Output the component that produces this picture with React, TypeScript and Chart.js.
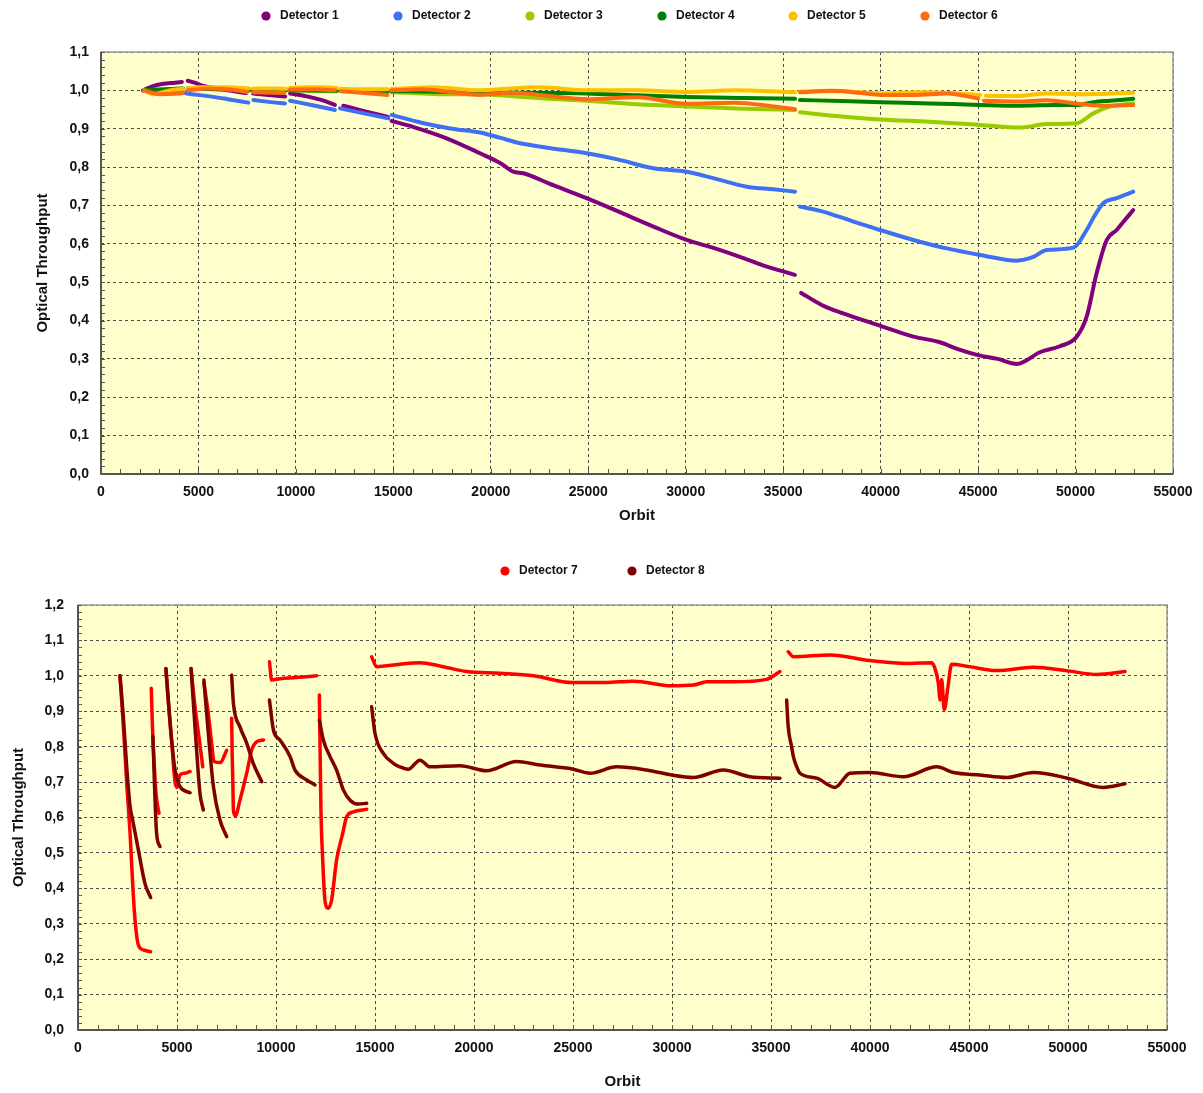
import { useEffect, useRef } from "react";
import { Chart, registerables } from "chart.js";

Chart.register(...registerables);

// ---------- Top chart data ----------
const topLabels = ["Detector 1", "Detector 2", "Detector 3", "Detector 4", "Detector 5", "Detector 6"];
const topColors = ["#800080", "#3f6ff2", "#99cc00", "#008000", "#ffc000", "#ff6a10"];

const det1Orbit = [2150, 2600, 3200, 3800, 4150, 4300, 4450, 4800, 5200, 5600, 6500, 7450, 7650, 7800, 8600, 9450, 9600, 9700, 10500, 11300, 12000, 12200, 12430, 13500, 14720, 14820, 14910, 16000, 17730, 19445, 20500, 21150, 21670, 23000, 24920, 26500, 28340, 30050, 31500, 32780, 34000, 35000, 35600, 35750, 35920, 37000, 38000, 40000, 41680, 43000, 44000, 45000, 46000, 47000, 48200, 49200, 50060, 50570, 51080, 51600, 52110, 52500, 52960];
const det1Value = [1.0, 1.01, 1.017, 1.02, 1.022, null, 1.025, 1.02, 1.012, 1.008, 1.0, 0.993, null, 0.992, 0.988, 0.984, null, 0.992, 0.985, 0.975, 0.962, null, 0.96, 0.946, 0.931, null, 0.92, 0.905, 0.875, 0.836, 0.81, 0.788, 0.784, 0.757, 0.719, 0.685, 0.645, 0.61, 0.588, 0.566, 0.543, 0.528, 0.519, null, 0.472, 0.44, 0.42, 0.386, 0.358, 0.344, 0.325, 0.31, 0.3, 0.287, 0.318, 0.333, 0.358, 0.41, 0.523, 0.61, 0.636, 0.66, 0.688];

const det2Orbit = [2200, 3500, 4400, 5500, 6500, 7560, 7700, 7820, 8600, 9440, 9580, 9700, 10800, 12000, 12130, 12260, 13500, 14740, 14830, 14910, 16500, 18000, 19445, 20500, 21500, 23000, 24920, 26500, 28340, 30050, 31500, 33130, 34500, 35610, 35730, 35860, 36890, 38500, 39970, 41680, 43390, 45100, 46980, 47800, 48520, 49890, 50570, 51000, 51420, 52110, 52960];
const det2Value = [1.0, 1.0, 0.992, 0.985, 0.977, 0.968, null, 0.975, 0.97, 0.966, null, 0.973, 0.962, 0.949, null, 0.953, 0.94, 0.927, null, 0.936, 0.915, 0.9, 0.89, 0.876, 0.862, 0.85, 0.836, 0.82, 0.797, 0.788, 0.77, 0.749, 0.742, 0.736, null, 0.697, 0.686, 0.66, 0.636, 0.61, 0.588, 0.571, 0.556, 0.565, 0.584, 0.59, 0.636, 0.675, 0.706, 0.719, 0.736];

const det3Orbit = [2200, 4200, 4300, 4450, 7600, 7700, 7800, 9500, 9600, 9700, 12100, 12200, 12300, 14700, 14820, 14900, 16000, 17500, 19445, 21000, 23000, 24920, 27500, 30050, 33000, 35610, 35730, 35860, 38000, 40000, 42500, 45100, 47150, 48520, 50060, 50910, 51770, 52960];
const det3Value = [1.0, 1.004, null, 1.005, 1.0, null, 1.0, 1.0, null, 1.0, 0.998, null, 0.998, 0.995, null, 0.995, 0.993, 0.99, 0.99, 0.985, 0.978, 0.973, 0.964, 0.958, 0.952, 0.949, null, 0.943, 0.932, 0.924, 0.918, 0.91, 0.903, 0.912, 0.914, 0.94, 0.958, 0.966];

const det4Orbit = [2200, 4200, 4300, 4450, 6000, 7600, 7700, 7800, 9500, 9600, 9700, 12100, 12200, 12300, 14700, 14820, 14900, 18000, 19445, 22000, 24920, 27500, 30050, 33000, 35610, 35730, 35860, 38000, 40000, 42500, 45100, 47150, 49000, 50060, 50910, 51770, 52960];
const det4Value = [1.0, 1.005, null, 1.005, 1.003, 1.0, null, 1.0, 1.0, null, 1.0, 0.999, null, 0.999, 0.998, null, 0.998, 0.996, 0.995, 0.994, 0.992, 0.987, 0.983, 0.98, 0.978, null, 0.975, 0.972, 0.969, 0.966, 0.962, 0.96, 0.962, 0.962, 0.969, 0.973, 0.978];

const det5Orbit = [2200, 2700, 3500, 4200, 4300, 4450, 5000, 6500, 7600, 7700, 7800, 9000, 9500, 9600, 9700, 10500, 11500, 12100, 12200, 12300, 13000, 14700, 14820, 14900, 15500, 17000, 19445, 21000, 22500, 24920, 27500, 30050, 32500, 35610, 35730, 35860, 38000, 40000, 42000, 44000, 45100, 45250, 45400, 47000, 48500, 50500, 52960];
const det5Value = [1.0, 0.99, 1.0, 1.004, null, 1.005, 1.008, 1.008, 1.005, null, 1.005, 1.005, 1.004, null, 1.006, 1.008, 1.008, 1.006, null, 1.004, 1.003, 1.003, null, 1.004, 1.005, 1.008, 1.0, 1.005, 1.008, 1.0, 1.0, 0.996, 1.0, 0.995, null, 0.997, 0.998, 0.992, 0.995, 0.992, 0.988, null, 0.986, 0.985, 0.992, 0.99, 0.994];

const det6Orbit = [2200, 3000, 4000, 4200, 4300, 4450, 5500, 6500, 7500, 7700, 7800, 9400, 9600, 9700, 11000, 12000, 12200, 12300, 14700, 14820, 14900, 16500, 18000, 19445, 21000, 22500, 24920, 27500, 30050, 32500, 34500, 35610, 35730, 35860, 37500, 39000, 40000, 41700, 43400, 45000, 45150, 45300, 47000, 48500, 50000, 51500, 52960];
const det6Value = [1.0, 0.99, 0.992, 0.993, null, 1.0, 1.005, 1.003, 0.996, null, 0.995, 0.993, null, 1.002, 1.003, 1.0, null, 0.998, 0.988, null, 1.0, 1.003, 0.995, 0.988, 0.994, 0.988, 0.977, 0.982, 0.965, 0.968, 0.958, 0.951, null, 0.995, 0.999, 0.993, 0.988, 0.988, 0.992, 0.979, null, 0.973, 0.971, 0.974, 0.966, 0.96, 0.962];

// ---------- Bottom chart data ----------
const bottomLabels = ["Detector 7", "Detector 8"];
const bottomColors = ["#ff0000", "#800000"];

const det7Orbit = [2120, 2300, 2460, 2630, 2760, 2880, 3050, 3300, 3670, 3690, 3700, 3760, 3840, 3940, 4090, 4200, 4440, 4600, 4750, 4900, 5000, 5150, 5400, 5660, 5690, 5710, 5910, 6130, 6300, 6340, 6360, 6580, 6750, 6870, 7180, 7510, 7600, 7760, 7790, 7820, 7850, 7950, 8180, 8520, 8770, 9030, 9370, 9500, 9670, 9780, 10200, 11000, 12050, 12120, 12190, 12220, 12270, 12360, 12470, 12640, 12810, 13060, 13370, 13570, 13910, 14580, 14700, 14830, 15080, 16260, 17270, 18280, 19630, 21310, 23000, 24960, 26640, 28050, 29980, 31080, 31750, 33100, 34780, 35450, 35600, 35870, 36130, 37980, 40000, 41850, 43110, 43280, 43450, 43540, 43620, 43750, 43940, 44120, 45000, 46400, 48250, 49980, 51450, 52880];
const det7Value = [1.0, 0.85, 0.697, 0.555, 0.414, 0.311, 0.24, 0.226, 0.221, null, 0.965, 0.857, 0.762, 0.668, 0.612, null, 1.02, 0.9, 0.8, 0.7, 0.685, 0.72, 0.725, 0.73, null, 1.02, 0.913, 0.819, 0.743, null, 0.98, 0.894, 0.81, 0.758, 0.755, 0.79, null, 0.88, 0.77, 0.7, 0.62, 0.605, 0.649, 0.725, 0.79, 0.814, 0.819, null, 1.04, 0.988, 0.992, 0.995, 1.0, null, 0.946, 0.819, 0.621, 0.48, 0.367, 0.344, 0.367, 0.48, 0.555, 0.602, 0.616, 0.623, null, 1.054, 1.026, 1.033, 1.037, 1.028, 1.012, 1.007, 1.0, 0.981, 0.981, 0.985, 0.972, 0.974, 0.983, 0.983, 0.99, 1.012, null, 1.068, 1.054, 1.059, 1.043, 1.035, 1.037, 1.021, 0.98, 0.932, 0.99, 0.905, 0.97, 1.033, 1.026, 1.015, 1.024, 1.014, 1.004, 1.012];

const det8Orbit = [2120, 2290, 2460, 2630, 2760, 3050, 3380, 3670, 3700, 3780, 3970, 4140, 4300, 4440, 4560, 4730, 4900, 5150, 5660, 5690, 5710, 5990, 6160, 6330, 6345, 6360, 6580, 6840, 7170, 7510, 7600, 7760, 7850, 8180, 8520, 8850, 9280, 9500, 9670, 9870, 10200, 10710, 10960, 11550, 11970, 12100, 12190, 12390, 12730, 13060, 13400, 13740, 14160, 14580, 14700, 14830, 15000, 15420, 15930, 16260, 16680, 17270, 17780, 19290, 20640, 22150, 23330, 24960, 25860, 27200, 28720, 29980, 31080, 32590, 33940, 35450, 35600, 35790, 35870, 36040, 36130, 36300, 36460, 37310, 38230, 38990, 40000, 41680, 43370, 44210, 45560, 46900, 48250, 49980, 51780, 52880];
const det8Value = [1.0, 0.885, 0.743, 0.631, 0.593, 0.508, 0.414, 0.374, null, 0.83, 0.555, 0.518, null, 1.021, 0.932, 0.819, 0.734, 0.687, 0.67, null, 1.021, 0.79, 0.668, 0.621, null, 0.988, 0.838, 0.687, 0.593, 0.546, null, 1.002, 0.922, 0.856, 0.81, 0.753, 0.701, null, 0.932, 0.847, 0.819, 0.772, 0.734, 0.706, 0.692, null, 0.875, 0.819, 0.772, 0.734, 0.678, 0.649, 0.638, 0.64, null, 0.913, 0.838, 0.781, 0.753, 0.743, 0.736, 0.762, 0.743, 0.746, 0.732, 0.758, 0.748, 0.737, 0.725, 0.743, 0.734, 0.72, 0.713, 0.734, 0.715, 0.711, null, 0.932, 0.856, 0.8, 0.772, 0.743, 0.725, 0.711, 0.685, 0.725, 0.727, 0.715, 0.743, 0.727, 0.72, 0.713, 0.727, 0.711, 0.685, 0.695];

const xTickStep = 5000;
const xMax = 55000;

const FONT = "'Liberation Sans', Arial, sans-serif";

function pairs(xs: number[], ys: (number | null)[]) {
  return xs.map((x, i) => ({ x, y: ys[i] }));
}

type PanelSpec = {
  height: number;
  yMax: number;
  lineWidth: number;
  series: { label: string; color: string; data: { x: number; y: number | null }[] }[];
  legendY: number;
  legendX: number[];
  padding: { left: number; right: number; top: number; bottom: number };
  yWidth: number;
  xHeight: number;
  yTickPad: number;
  xTitlePadBottom: number;
};

const framePlugin = {
  id: "frame",
  beforeDraw(chart: any) {
    const { ctx, chartArea: a } = chart;
    ctx.save();
    ctx.fillStyle = "#ffffcc";
    ctx.fillRect(a.left, a.top, a.right - a.left, a.bottom - a.top);
    ctx.restore();
  },
  afterDraw(chart: any) {
    const { ctx, chartArea: a } = chart;
    const xs = chart.scales.x;
    const ys = chart.scales.y;
    ctx.save();
    ctx.strokeStyle = "#9a9a9a";
    ctx.lineWidth = 1.5;
    ctx.strokeRect(a.left, a.top, a.right - a.left, a.bottom - a.top);
    ctx.strokeStyle = "#3a3a3a";
    ctx.lineWidth = 1.5;
    ctx.beginPath();
    ctx.moveTo(a.left, a.top);
    ctx.lineTo(a.left, a.bottom);
    ctx.lineTo(a.right, a.bottom);
    ctx.stroke();
    // minor ticks
    ctx.lineWidth = 1;
    ctx.strokeStyle = "#555";
    ctx.beginPath();
    const yMax = ys.max;
    for (let i = 0; i * 0.02 <= yMax + 1e-9; i++) {
      const py = Math.round(ys.getPixelForValue(i * 0.02)) + 0.5;
      ctx.moveTo(a.left, py);
      ctx.lineTo(a.left + 4, py);
    }
    for (let v = 0; v <= xMax; v += 1000) {
      const px = Math.round(xs.getPixelForValue(v)) + 0.5;
      ctx.moveTo(px, a.bottom);
      ctx.lineTo(px, a.bottom - 5);
    }
    ctx.stroke();
    // legend
    const opts = chart.options.plugins.frame;
    ctx.font = `bold 12px ${FONT}`;
    ctx.textBaseline = "middle";
    ctx.textAlign = "left";
    chart.data.datasets.forEach((ds: any, i: number) => {
      const cx = opts.legendX[i];
      ctx.fillStyle = ds.borderColor;
      ctx.beginPath();
      ctx.arc(cx, opts.legendY, 4.6, 0, Math.PI * 2);
      ctx.fill();
      ctx.fillStyle = "#111";
      ctx.fillText(ds.label, cx + 14, opts.legendY);
    });
    ctx.restore();
  },
};

function Panel({ spec }: { spec: PanelSpec }) {
  const ref = useRef<HTMLCanvasElement | null>(null);
  useEffect(() => {
    if (!ref.current) return;
    const n = spec.series.length;
    const chart = new Chart(ref.current, {
      type: "line",
      data: {
        datasets: spec.series.map((s, i) => ({
          label: s.label,
          data: s.data as any,
          borderColor: s.color,
          backgroundColor: s.color,
          borderWidth: spec.lineWidth,
          pointRadius: 0,
          pointHoverRadius: 0,
          cubicInterpolationMode: "monotone",
          borderCapStyle: "round",
          borderJoinStyle: "round",
          spanGaps: false,
          fill: false,
          order: n - i,
        })),
      },
      options: {
        animation: false,
        responsive: false,
        devicePixelRatio: 1,
        parsing: true,
        layout: { padding: spec.padding },
        plugins: {
          legend: { display: false },
          tooltip: { enabled: false },
          frame: { legendY: spec.legendY, legendX: spec.legendX },
        } as any,
        scales: {
          x: {
            type: "linear",
            min: 0,
            max: xMax,
            afterFit: (s: any) => {
              s.height = spec.xHeight;
            },
            ticks: {
              stepSize: xTickStep,
              autoSkip: false,
              maxRotation: 0,
              padding: 10,
              color: "#111",
              font: { family: FONT, size: 14, weight: "bold" },
              callback: (v: any) => String(v),
            },
            grid: { color: "#4a4a4a", lineWidth: 1, drawTicks: false },
            border: { display: false, dash: [3, 3] },
            title: {
              display: true,
              text: "Orbit",
              color: "#111",
              font: { family: FONT, size: 15, weight: "bold" },
              padding: { top: 4, bottom: spec.xTitlePadBottom },
            },
          },
          y: {
            type: "linear",
            min: 0,
            max: spec.yMax,
            afterFit: (s: any) => {
              s.width = spec.yWidth;
            },
            ticks: {
              stepSize: 0.1,
              padding: spec.yTickPad,
              color: "#111",
              font: { family: FONT, size: 14, weight: "bold" },
              callback: (v: any) => Number(v).toFixed(1).replace(".", ","),
            },
            grid: { color: "#4a4a4a", lineWidth: 1, drawTicks: false },
            border: { display: false, dash: [3, 3] },
            title: {
              display: true,
              text: "Optical Throughput",
              color: "#111",
              font: { family: FONT, size: 15, weight: "bold" },
              padding: { top: 4, bottom: 4 },
            },
          },
        },
      } as any,
      plugins: [framePlugin as any],
    });
    return () => chart.destroy();
  }, [spec]);
  return <canvas ref={ref} width={1203} height={spec.height} style={{ display: "block" }} />;
}

const topSpec: PanelSpec = {
  height: 545,
  yMax: 1.1,
  lineWidth: 4,
  series: [
    { label: topLabels[0], color: topColors[0], data: pairs(det1Orbit, det1Value) },
    { label: topLabels[1], color: topColors[1], data: pairs(det2Orbit, det2Value) },
    { label: topLabels[2], color: topColors[2], data: pairs(det3Orbit, det3Value) },
    { label: topLabels[3], color: topColors[3], data: pairs(det4Orbit, det4Value) },
    { label: topLabels[4], color: topColors[4], data: pairs(det5Orbit, det5Value) },
    { label: topLabels[5], color: topColors[5], data: pairs(det6Orbit, det6Value) },
  ],
  legendY: 16,
  legendX: [266, 398, 530, 662, 793, 925],
  padding: { left: 30, right: 30, top: 52, bottom: 0 },
  yWidth: 71,
  xHeight: 71,
  yTickPad: 12,
  xTitlePadBottom: 20,
};

const bottomSpec: PanelSpec = {
  height: 548,
  yMax: 1.2,
  lineWidth: 3.5,
  series: [
    { label: bottomLabels[0], color: bottomColors[0], data: pairs(det7Orbit, det7Value) },
    { label: bottomLabels[1], color: bottomColors[1], data: pairs(det8Orbit, det8Value) },
  ],
  legendY: 26,
  legendX: [505, 632],
  padding: { left: 6, right: 36, top: 60, bottom: 0 },
  yWidth: 72,
  xHeight: 63,
  yTickPad: 14,
  xTitlePadBottom: 2,
};

export default function App() {
  useEffect(() => {
    document.body.style.margin = "0";
    document.body.style.background = "#fff";
  }, []);
  return (
    <div style={{ position: "absolute", left: 0, top: 0, width: 1203, height: 1093, background: "#fff" }}>
      <Panel spec={topSpec} />
      <Panel spec={bottomSpec} />
    </div>
  );
}
